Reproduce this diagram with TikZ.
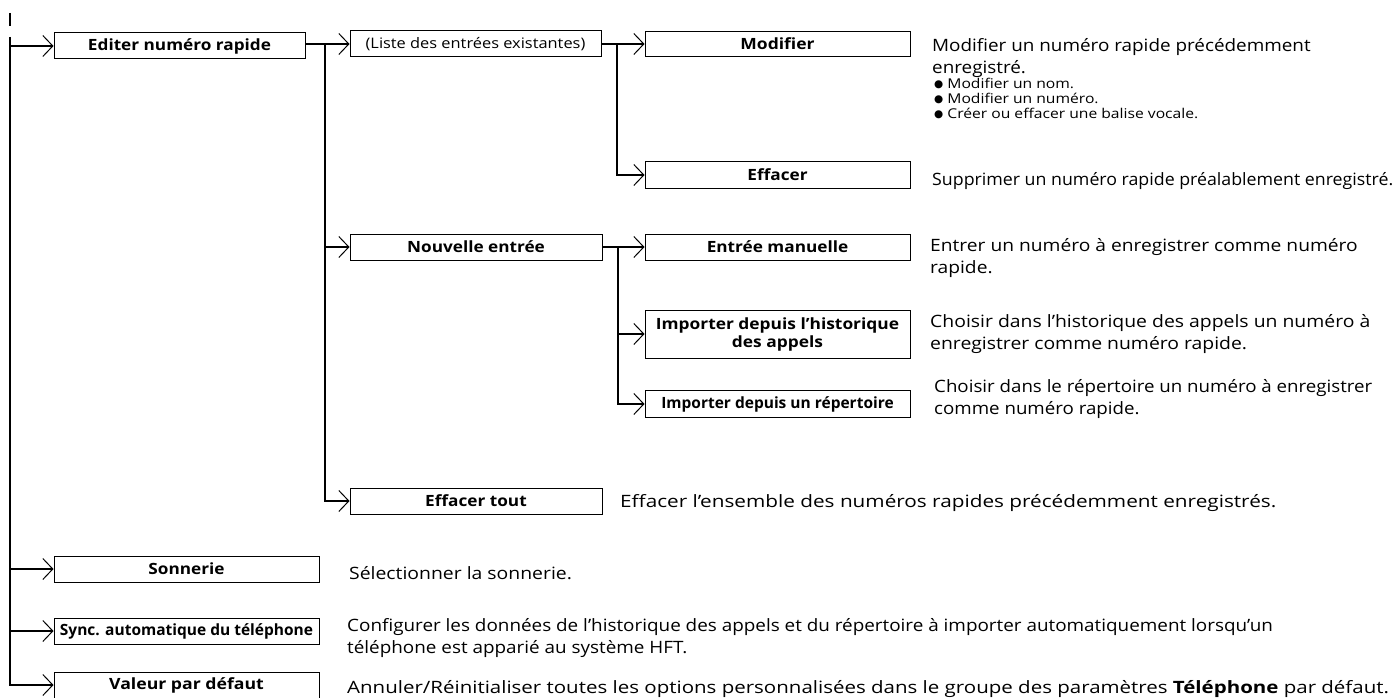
\documentclass[tikz,border=0pt]{standalone}
\usepackage{fontspec}
\setmainfont{Open Sans}
\newfontfamily\symfont{DejaVu Sans}
\newcommand{\dotitem}{\raisebox{1.2pt}{\symfont\fontsize{10.5}{10.5}\selectfont ●}\hspace{4pt}}
\usetikzlibrary{arrows.meta,positioning}

\begin{document}
\begin{tikzpicture}[x=1pt,y=-1pt,
  >={Straight Barb[length=10pt,width=21pt,line width=1pt]},
  menu/.style={draw, line width=1pt, inner sep=0pt, minimum height=26pt, align=center,
    font=\fontsize{15.5}{18}\selectfont\bfseries\addfontfeatures{FakeStretch=#1}},
  menu/.default=1.11,
  link/.style={line width=2pt, ->},
  desc/.style={anchor=north west, inner sep=0pt, align=left,
    font=\fontsize{17}{22}\selectfont\addfontfeatures{FakeStretch=#1}, execute at begin node=\strut},
  desc/.default=1.1,
  bullets/.style={anchor=north west, inner sep=0pt, align=left,
    font=\fontsize{13.5}{15}\selectfont\addfontfeatures{FakeStretch=1.16}, execute at begin node=\strut}]
  \useasboundingbox (0,0) rectangle (1398,698);

  % first level
  \node[menu, minimum width=251pt] (editer) at (179.5,46) {Editer numéro rapide};
  \node[menu, minimum width=265pt] (sonnerie) at (186.5,569) {Sonnerie};
  \node[menu=1.0, minimum width=265pt] (sync) at (186.5,631) {Sync. automatique du téléphone};
  \node[menu=1.14, minimum width=265pt] (defaut) at (186.5,685) {Valeur par défaut};

  % second level
  \node[menu, minimum width=251pt, font=\fontsize{14.5}{17}\selectfont\addfontfeatures{FakeStretch=1.13}] (liste) at (475.5,44) {(Liste des entrées existantes)};
  \node[menu, minimum width=252pt] (nouvelle) at (476,247) {Nouvelle entrée};
  \node[menu, minimum width=252pt] (tout) at (476,501) {Effacer tout};

  % third level
  \node[menu=1.13, minimum width=265pt, minimum height=25pt] (modifier) at (777.5,44) {Modifier};
  \node[menu, minimum width=265pt] (effacer) at (777.5,175) {Effacer};
  \node[menu, minimum width=265pt] (manuelle) at (777.5,247) {Entrée manuelle};
  \node[menu=1.12, minimum width=265pt, minimum height=48pt] (histo) at (777.5,334) {Importer depuis l'historique\\des appels};
  \node[menu=1.0, minimum width=265pt, minimum height=27pt] (repert) at (777.5,404) {Importer depuis un répertoire};

  % trunk
  \draw[line width=2pt] (10,13) -- (10,26);
  \coordinate (top) at (10,37);
  \draw[link] (top) |- (defaut.west);
  \draw[link] (top |- editer.west) -- (editer.west);
  \draw[link] (top |- sonnerie.west) -- (sonnerie.west);
  \draw[link] (top |- sync.west) -- (sync.west);

  % branches
  \coordinate (fork1) at (325,44);
  \draw[link] (editer.east |- liste.west) -- (liste.west);
  \draw[link] (fork1) |- (nouvelle.west);
  \draw[link] (fork1) |- (tout.west);

  \coordinate (fork2) at (617,44);
  \draw[link] (liste.east) -- (modifier.west);
  \draw[link] (fork2) |- (effacer.west);

  \coordinate (fork3) at (618,247);
  \draw[link] (nouvelle.east) -- (manuelle.west);
  \draw[link] (fork3) |- (histo.west);
  \draw[link] (fork3) |- (repert.west);

  % descriptions
  \node[desc=1.11] (dmodifier) at (932,38) {Modifier un numéro rapide précédemment\\enregistré.};
  \node[bullets] (dliste) at (934,78) {\dotitem Modifier un nom.\\\dotitem Modifier un numéro.\\\dotitem Créer ou effacer une balise vocale.};
  \node[desc=1.045] (deffacer) at (932,170) {Supprimer un numéro rapide préalablement enregistré.};
  \node[desc=1.13] (dmanuelle) at (930,238) {Entrer un numéro à enregistrer comme numéro\\rapide.};
  \node[desc=1.14] (dhisto) at (930,314) {Choisir dans l'historique des appels un numéro à\\enregistrer comme numéro rapide.};
  \node[desc=1.1] (drepert) at (934,379) {Choisir dans le répertoire un numéro à enregistrer\\comme numéro rapide.};
  \node[desc=1.22] (dtout) at (620,492) {Effacer l'ensemble des numéros rapides précédemment enregistrés.};
  \node[desc=1.14] (dsonnerie) at (349,564) {Sélectionner la sonnerie.};
  \node[desc=1.11] (dsync) at (347,618) {Configurer les données de l'historique des appels et du répertoire à importer automatiquement lorsqu'un\\téléphone est apparié au système HFT.};
  \node[desc=1.205] (ddefaut) at (347,678) {Annuler/Réinitialiser toutes les options personnalisées dans le groupe des paramètres \textbf{Téléphone} par défaut.};
\end{tikzpicture}
\end{document}
